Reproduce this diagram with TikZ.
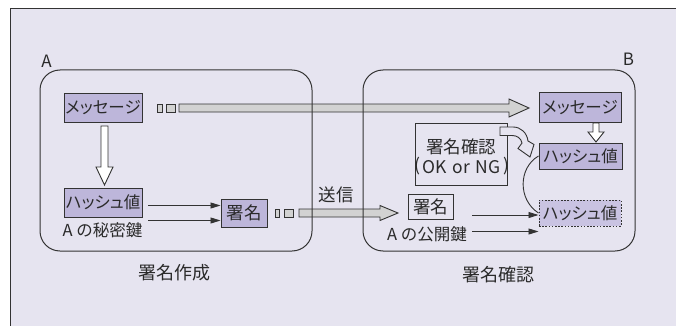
\documentclass[tikz,border=0pt]{standalone}
\usepackage{fontspec}
\setmainfont{Noto Sans CJK JP}
\newfontfamily\jpp[RawFeature=+palt]{Noto Sans CJK JP}
\usetikzlibrary{arrows.meta}
\definecolor{bgl}{HTML}{E6E4F0}
\definecolor{pbox}{HTML}{BDB6DA}
\definecolor{pboxl}{HTML}{C9C3E2}
\definecolor{ln}{HTML}{333333}
\definecolor{txt}{HTML}{2A2A2A}
\definecolor{barc}{HTML}{D2D2D2}
\tikzset{
  pnode/.style={draw=ln, line width=1pt, fill=pbox, inner sep=0pt, text=txt, font=\jpp\fontsize{16.5}{18}\selectfont},
  wnode/.style={draw=ln, line width=1pt, inner sep=0pt, text=txt},
  lbl/.style={inner sep=0pt, text=txt},
  group/.style={draw=ln, line width=1pt, rounded corners=20pt},
  arr/.style={ln, line width=0.9pt, -{Triangle[length=10pt,width=6pt]}},
  hollow/.style={draw=ln, line width=0.9pt, fill=white},
  bar/.style={draw=ln, line width=0.9pt, fill=barc}
}
\begin{document}
\begin{tikzpicture}[x=1pt,y=-1pt]
\useasboundingbox (0,0) rectangle (676,326);
% background panel
\fill[bgl] (10,9) rectangle (676,326);
\draw[ln, line width=1pt] (676,9) -- (10,9) -- (10,326);

% labels A, B
\node[lbl, font=\fontsize{17}{19}\selectfont] (labA) at (46.5,61.5) {A};
\node[lbl, font=\fontsize{17}{19}\selectfont] (labB) at (628.5,59.5) {B};

% top long arrow (message transfer)
\draw[bar] (157,104) rectangle (162,112);
\draw[bar] (166,104) rectangle (175,112);
\draw[bar] (179,104) -- (509,104) -- (509,99) -- (529,108) -- (509,117) -- (509,112) -- (179,112) -- cycle;

% bottom transmission arrow
\draw[bar] (275,209) rectangle (279,217);
\draw[bar] (284,209) rectangle (293,217);
\draw[bar] (299,209) -- (380,209) -- (380,205.5) -- (398,213) -- (380,220.5) -- (380,217) -- (299,217) -- cycle;
\node[lbl, font=\fontsize{17.5}{19}\selectfont] (send) at (336,195) {送信};

% groups
\draw[group] (40,70) rectangle (312,251);
\draw[group] (363,70) rectangle (635,251);

% ---- A side ----
\node[pnode, minimum width=78pt, minimum height=28pt] (msgA) at (103,108) {メッセージ};
\node[pnode, minimum width=78pt, minimum height=29pt] (hashA) at (103,202.5) {ハッシュ値};
\node[lbl, font=\fontsize{16.5}{18}\selectfont] (keyA) at (102.5,230) {A の秘密鍵};
\node[pnode, minimum width=46pt, minimum height=28pt, font=\fontsize{17.5}{19}\selectfont] (sigA) at (244,213) {署名};
\draw[hollow] (101,126) -- (108,126) -- (108,167) -- (113,167) -- (104.5,185) -- (96,167) -- (101,167) -- cycle;
\draw[arr] (148,205.5) -- (sigA.west |- 0,205.5);
\draw[arr] (148,220.5) -- (sigA.west |- 0,220.5);
\node[lbl, font=\fontsize{18}{20}\selectfont] (capA) at (174.5,272.5) {署名作成};

% ---- B side ----
\node[pnode, minimum width=82pt, minimum height=29pt] (msgB) at (580,107.5) {メッセージ};
\node[pnode, minimum width=83pt, minimum height=26pt] (hashB) at (580.5,156) {ハッシュ値};
\node[pnode, fill=pboxl, dash pattern=on 1.6pt off 1.6pt, minimum width=82pt, minimum height=26pt] (hashB2) at (580,213) {ハッシュ値};
\node[wnode, minimum width=92pt, minimum height=62pt] (verify) at (461,154) {};
\node[lbl, font=\fontsize{17.5}{19}\selectfont] (verT1) at (461,146.5) {署名確認};
\node[lbl, font=\fontsize{17.5}{19}\selectfont] (verT2) at (461.5,167) {OK\hspace{2pt} or\hspace{2pt} NG};
\node[lbl, font=\fontsize{17.5}{19}\selectfont] (parL) at (417,166) {(};
\node[lbl, font=\fontsize{17.5}{19}\selectfont] (parR) at (506,166) {)};
\node[wnode, minimum width=45pt, minimum height=25pt, font=\fontsize{17.5}{19}\selectfont] (sigB) at (430.5,206.5) {署名};
\node[lbl, font=\fontsize{16.5}{18}\selectfont] (keyB) at (427,234) {A の公開鍵};
\draw[hollow] (593,123) -- (599,123) -- (599,132) -- (604,132) -- (596,142) -- (588,132) -- (593,132) -- cycle;
% curved hollow arrow
\draw[draw=ln, line width=0.9pt, fill=bgl]
  (500,127) -- (513,127) .. controls (521,127) and (527,133) .. (528,141)
  -- (534,144.5) -- (530,157) -- (518,148.5) -- (522,143)
  .. controls (521,138) and (517,135.5) .. (512,135.5) -- (500,135.5) -- cycle;
\draw[arr] (472,215) -- (hashB2.west |- 0,215);
\draw[arr] (472,231.5) -- (hashB2.west |- 0,231.5);
\draw[ln, line width=0.9pt] (hashB.west) .. controls (518,168) and (518,200) .. (hashB2.west);
\node[lbl, font=\fontsize{18}{20}\selectfont] (capB) at (498,275) {署名確認};
\end{tikzpicture}
\end{document}
